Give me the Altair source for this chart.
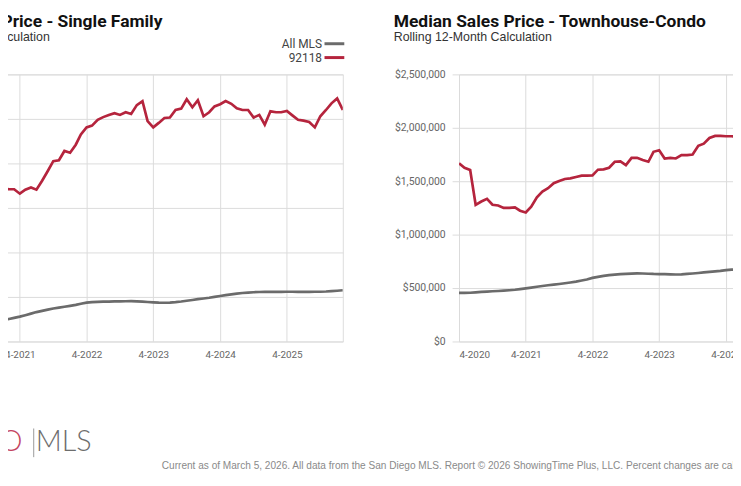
import altair as alt
import pandas as pd

# ---------------- data ----------------
months = [d.strftime("%Y-%m-%dT00:00:00") for d in pd.date_range("2020-04-01", "2026-02-01", freq="MS")]
series_names = ["All MLS", "92118"]

# Single Family, rolling 12-month median (4-2020 .. 2-2026)
sf_all_mls = [420000, 425000, 430000, 438000, 445000, 452000, 460000, 468000, 476000,
              483000, 505000, 530000, 558000, 590000, 625000, 660000, 688000, 715000, 740000, 760000, 780000,
              800000, 822000, 848000, 872000, 884000, 890000, 893000, 896000, 899000, 902000, 904000, 905000,
              902000, 896000, 887000, 878000, 872000, 870000, 874000, 884000, 898000, 915000, 932000, 950000,
              966000, 982000, 1000000, 1020000, 1040000, 1058000, 1075000, 1088000, 1098000, 1106000, 1111000, 1114000,
              1114000, 1116000, 1115000, 1117000, 1116000, 1115000, 1114000, 1115000, 1116000, 1117000, 1122000, 1130000,
              1140000, 1150000]
sf_92118 = [3300000, 3250000, 3280000, 3350000, 3380000, 3400000, 3420000, 3450000, 3440000,
            3440000, 3420000, 3420000, 3320000, 3410000, 3460000, 3410000, 3610000, 3830000, 4050000, 4070000, 4280000,
            4240000, 4420000, 4650000, 4810000, 4850000, 4980000, 5040000, 5090000, 5130000, 5090000, 5150000, 5110000,
            5310000, 5400000, 4950000, 4810000, 4910000, 5020000, 5030000, 5200000, 5230000, 5440000, 5260000, 5420000,
            5060000, 5150000, 5280000, 5330000, 5400000, 5340000, 5240000, 5200000, 5200000, 5030000, 5090000, 4870000,
            5170000, 5150000, 5150000, 5180000, 5080000, 4980000, 4960000, 4930000, 4810000, 5060000, 5200000, 5350000,
            5460000, 5200000]

# Townhouse-Condo, rolling 12-month median (4-2020 .. 6-2024 visible)
tc_all_mls = [455000, 455000, 456000, 460000, 464000, 467000, 470000, 472000, 475000,
              479000, 484000, 490000, 497000, 504000, 512000, 519000, 526000, 532000, 538000, 545000, 552000,
              560000, 570000, 580000, 595000, 605000, 614000, 621000, 626000, 630000, 632000, 635000, 637000,
              636000, 634000, 632000, 631000, 630000, 628000, 627000, 628000, 632000, 636000, 641000, 646000,
              652000, 656000, 660000, 667000, 672000, 676000]
tc_92118 = [1667000, 1626000, 1605000, 1279000, 1310000, 1335000, 1280000, 1273000, 1250000,
            1250000, 1255000, 1224000, 1208000, 1261000, 1350000, 1403000, 1434000, 1481000, 1502000, 1521000, 1527000,
            1540000, 1552000, 1552000, 1555000, 1608000, 1611000, 1626000, 1682000, 1685000, 1651000, 1719000, 1719000,
            1698000, 1682000, 1775000, 1790000, 1713000, 1719000, 1713000, 1744000, 1744000, 1750000, 1831000, 1852000,
            1905000, 1924000, 1924000, 1921000, 1921000, 1918000]

sf_ticks = [0, 1000000, 2000000, 3000000, 4000000, 5000000, 6000000]
tc_ticks = [0, 500000, 1000000, 1500000, 2000000, 2500000]
tick_years = [2020, 2021, 2022, 2023, 2024, 2025]

footnote = ("Current as of March 5, 2026. All data from the San Diego MLS. Report \u00a9 2026 "
            "ShowingTime Plus, LLC. Percent changes are calculated using rounded figures.")


def long_df(all_mls, zipv):
    rows = []
    for d, v in zip(months, all_mls):
        rows.append({"date": d, "series": series_names[0], "value": v})
    for d, v in zip(months, zipv):
        rows.append({"date": d, "series": series_names[1], "value": v})
    return pd.DataFrame(rows)


df_sf = long_df(sf_all_mls, sf_92118)
df_tc = long_df(tc_all_mls, tc_92118)

# ---------------- styling ----------------
AXF = "Roboto, sans-serif"
REG = "'Liberation Sans', Arial, sans-serif"
GRID = "#dcdcdc"
RED = "#b5243d"
GRAY = "#6b6b6b"
W, H = 394, 270

x_axis = alt.Axis(values=[alt.DateTime(year=y, month=4, date=1) for y in tick_years],
                  format="%-m-%Y", title=None, grid=True, gridColor=GRID, domain=False,
                  ticks=False, labelPadding=8, labelFont=AXF, labelFontSize=10,
                  labelColor="#666666")
x_scale = alt.Scale(domain=[alt.DateTime(year=2020, month=4, date=1),
                            alt.DateTime(year=2026, month=2, date=1)])

legend = alt.Legend(title=None, orient="none", legendX=375.5, legendY=-37.5, direction="vertical",
                    symbolType="M-2,0H2", symbolStrokeWidth=3, symbolSize=100, symbolOffset=3.5,
                    labelAlign="right", labelOffset={"expr": "-19"}, labelFont=AXF, labelFontSize=12,
                    labelColor="#444444", rowPadding=1, padding=0, offset=0)
color_scale = alt.Scale(domain=series_names, range=[GRAY, RED])


def panel(df, ticks, title, title_dx):
    y_axis = alt.Axis(values=ticks, format="$,.0f", title=None, grid=True, gridColor=GRID,
                      domain=False, tickSize=7, tickColor=GRID, labelPadding=7,
                      labelFont=AXF, labelFontSize=10.5, labelColor="#666666")
    return alt.Chart(df).mark_line(strokeWidth=2.7, clip=True).encode(
        x=alt.X("date:T", scale=x_scale, axis=x_axis),
        y=alt.Y("value:Q", scale=alt.Scale(domain=[ticks[0], ticks[-1]]), axis=y_axis),
        color=alt.Color("series:N", scale=color_scale, legend=legend, sort=series_names),
    ).properties(
        width=W, height=H,
        title=alt.TitleParams(text=title, subtitle="Rolling 12-Month Calculation",
                              anchor="start", frame="group", dx=title_dx, offset=-6.5,
                              font="Roboto", fontSize=17.6, fontWeight="bold", color="#111111",
                              subtitleFont=REG, subtitleFontSize=12.5, subtitleColor="#333333",
                              subtitlePadding=1),
    )


left_lines = panel(df_sf, sf_ticks, "Median Sales Price - Single Family", -62)
right = panel(df_tc, tc_ticks, "Median Sales Price - Townhouse-Condo", -66)

# footer (logo + note), placed below the left panel
logo_sd = alt.Chart(pd.DataFrame({"t": ["SAN DIEGO"]})).mark_text(
    align="right", baseline="alphabetic", font="Lato", fontWeight=300, fontSize=29, color="#c4455f"
).encode(x=alt.value(70), y=alt.value(381), text="t:N")
logo_bar = alt.Chart(pd.DataFrame({"t": ["|"]})).mark_rule(color="#9a9a9a", strokeWidth=1).encode(
    x=alt.value(81.5), y=alt.value(358), y2=alt.value(387))
logo_mls = alt.Chart(pd.DataFrame({"t": ["MLS"]})).mark_text(
    align="left", baseline="alphabetic", font="Lato", fontWeight=300, fontSize=29, color="#6d6d6d"
).encode(x=alt.value(83.5), y=alt.value(381), text="t:N")
note = alt.Chart(pd.DataFrame({"t": [footnote]})).mark_text(
    align="left", baseline="alphabetic", font=REG, fontSize=10.2, color="#8a8a8a"
).encode(x=alt.value(211), y=alt.value(399), text="t:N")

left = alt.layer(left_lines, logo_sd, logo_bar, logo_mls, note)

chart = alt.hconcat(left, right, spacing=117.5, bounds="flush").resolve_scale(
    color="independent", y="independent"
).resolve_legend(color="independent").properties(
    autosize=alt.AutoSizeParams(type="none"),
    padding={"left": -55.5, "top": 63, "right": 788.5, "bottom": 415}
).configure_view(stroke=GRID).configure(background="white")

chart.save("out.html", embed_options={"renderer": "svg", "actions": False})
